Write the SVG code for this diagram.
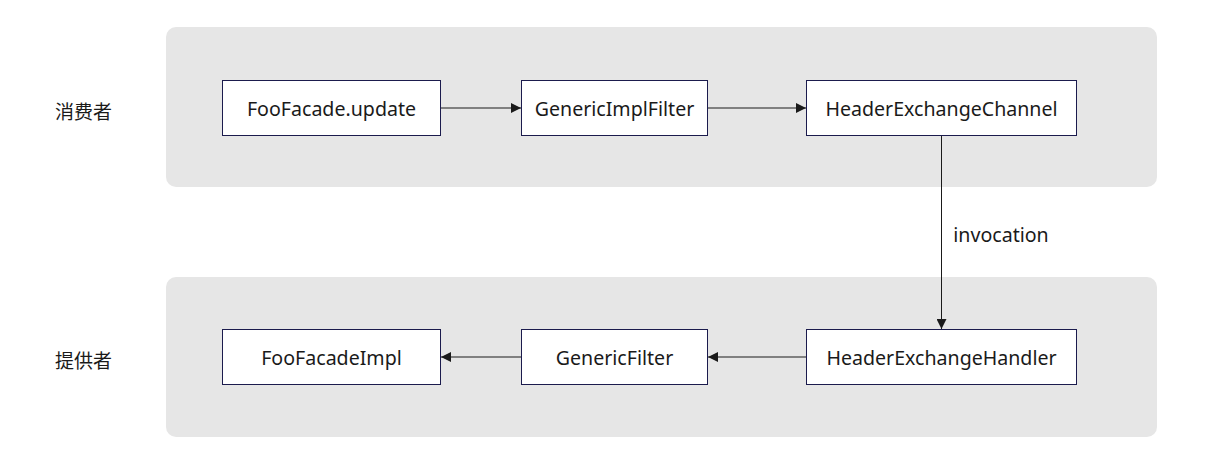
<svg xmlns="http://www.w3.org/2000/svg" width="1231" height="457" viewBox="0 0 1231 457">
<style>
.grp{fill:#e6e6e6;}
.node rect{fill:#ffffff;stroke:#1b1b4d;stroke-width:1;}
text{font-family:"Noto Sans","Open Sans","Noto Sans CJK SC",sans-serif;font-size:19.6px;fill:#1a1a1a;}
.lbl{font-family:"Noto Sans CJK SC","Noto Sans",sans-serif;font-size:19px;}
.c{text-anchor:middle;dominant-baseline:central;}
.edge{stroke:#1a1a1a;stroke-width:1;fill:none;marker-end:url(#ah);}
</style>
<defs>
<marker id="ah" viewBox="0 0 10 10" refX="10" refY="5" markerWidth="10" markerHeight="10" markerUnits="userSpaceOnUse" orient="auto">
<path d="M0,0 L10,5 L0,10 z" fill="#1a1a1a"/>
</marker>
</defs>
<rect class="grp" x="166" y="27" width="991" height="160" rx="10"/>
<rect class="grp" x="166" y="277" width="991" height="160" rx="10"/>
<text class="lbl" x="55" y="110" dominant-baseline="central">消费者</text>
<text class="lbl" x="55" y="359" dominant-baseline="central">提供者</text>
<g id="n1" class="node"><rect x="222.5" y="80.5" width="218" height="55"/><text class="c" x="331.5" y="108">FooFacade.update</text></g>
<g id="n2" class="node"><rect x="521.5" y="80.5" width="186" height="55"/><text class="c" x="614.5" y="108">GenericImplFilter</text></g>
<g id="n3" class="node"><rect x="806.5" y="80.5" width="270" height="55"/><text class="c" x="941.5" y="108">HeaderExchangeChannel</text></g>
<g id="n4" class="node"><rect x="222.5" y="329.5" width="218" height="55"/><text class="c" x="331.5" y="357">FooFacadeImpl</text></g>
<g id="n5" class="node"><rect x="521.5" y="329.5" width="186" height="55"/><text class="c" x="614.5" y="357">GenericFilter</text></g>
<g id="n6" class="node"><rect x="806.5" y="329.5" width="270" height="55"/><text class="c" x="941.5" y="357">HeaderExchangeHandler</text></g>
<g id="edges">
<line class="edge" x1="441" y1="108" x2="521" y2="108"/>
<line class="edge" x1="708" y1="108" x2="806" y2="108"/>
<line class="edge" x1="941.5" y1="136" x2="941.5" y2="329"/>
<line class="edge" x1="806" y1="357" x2="708" y2="357"/>
<line class="edge" x1="521" y1="357" x2="441" y2="357"/>
<text x="1001" y="234" class="c">invocation</text>
</g>
</svg>
